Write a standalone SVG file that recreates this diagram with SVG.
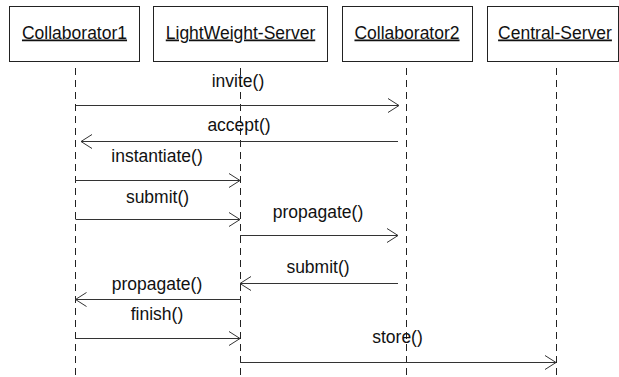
<svg xmlns="http://www.w3.org/2000/svg" width="619" height="377" viewBox="0 0 619 377">
<style>
.box{fill:#fff;stroke:#222;stroke-width:1}
.life{stroke:#222;stroke-width:1;stroke-dasharray:7,5;fill:none}
.msg{stroke:#333;stroke-width:1;fill:none}
.t{font-family:"Liberation Sans",Arial,sans-serif;font-size:17.5px;fill:#111;text-anchor:middle}
.u{text-decoration:underline}
</style>
<defs>
<marker id="open" markerWidth="14" markerHeight="16" refX="12" refY="8" orient="auto" markerUnits="userSpaceOnUse">
<path d="M1,1 L12,8 L1,15" fill="none" stroke="#333" stroke-width="1"/>
</marker>
</defs>
<rect width="619" height="377" fill="#fff"/>
<g id="collaborator1">
<rect class="box" x="9.5" y="6.5" width="130" height="55"/>
<text class="t u" x="74.5" y="38.5">Collaborator1</text>
<line class="life" x1="75.5" y1="68" x2="75.5" y2="377"/>
</g>
<g id="lightweight-server">
<rect class="box" x="153.5" y="6.5" width="174" height="55"/>
<text class="t u" x="240.5" y="38.5">LightWeight-Server</text>
<line class="life" x1="240.5" y1="68" x2="240.5" y2="377"/>
</g>
<g id="collaborator2">
<rect class="box" x="342.5" y="6.5" width="130" height="55"/>
<text class="t u" x="407" y="38.5">Collaborator2</text>
<line class="life" x1="406.5" y1="68" x2="406.5" y2="377"/>
</g>
<g id="central-server">
<rect class="box" x="487.5" y="6.5" width="131" height="55"/>
<text class="t u" x="555" y="38.5">Central-Server</text>
<line class="life" x1="556.5" y1="68" x2="556.5" y2="377"/>
</g>
<g id="connectors">
<line class="msg" x1="76" y1="105.5" x2="399" y2="105.5" marker-end="url(#open)"/>
<text class="t" x="238" y="87">invite()</text>
<line class="msg" x1="398" y1="141.5" x2="81" y2="141.5" marker-end="url(#open)"/>
<text class="t" x="239" y="131">accept()</text>
<line class="msg" x1="75.5" y1="180.5" x2="240" y2="180.5" marker-end="url(#open)"/>
<text class="t" x="157" y="162">instantiate()</text>
<line class="msg" x1="75.5" y1="219.5" x2="240" y2="219.5" marker-end="url(#open)"/>
<text class="t" x="157.5" y="202.5">submit()</text>
<line class="msg" x1="240" y1="235.5" x2="398" y2="235.5" marker-end="url(#open)"/>
<text class="t" x="318" y="218">propagate()</text>
<line class="msg" x1="398" y1="283.5" x2="240" y2="283.5" marker-end="url(#open)"/>
<text class="t" x="318" y="273">submit()</text>
<line class="msg" x1="240" y1="299.5" x2="75.5" y2="299.5" marker-end="url(#open)"/>
<text class="t" x="157" y="290">propagate()</text>
<line class="msg" x1="75.5" y1="338.5" x2="240" y2="338.5" marker-end="url(#open)"/>
<text class="t" x="157" y="320">finish()</text>
<line class="msg" x1="240" y1="362.5" x2="556" y2="362.5" marker-end="url(#open)"/>
<text class="t" x="397.5" y="343">store()</text>
</g>
</svg>
